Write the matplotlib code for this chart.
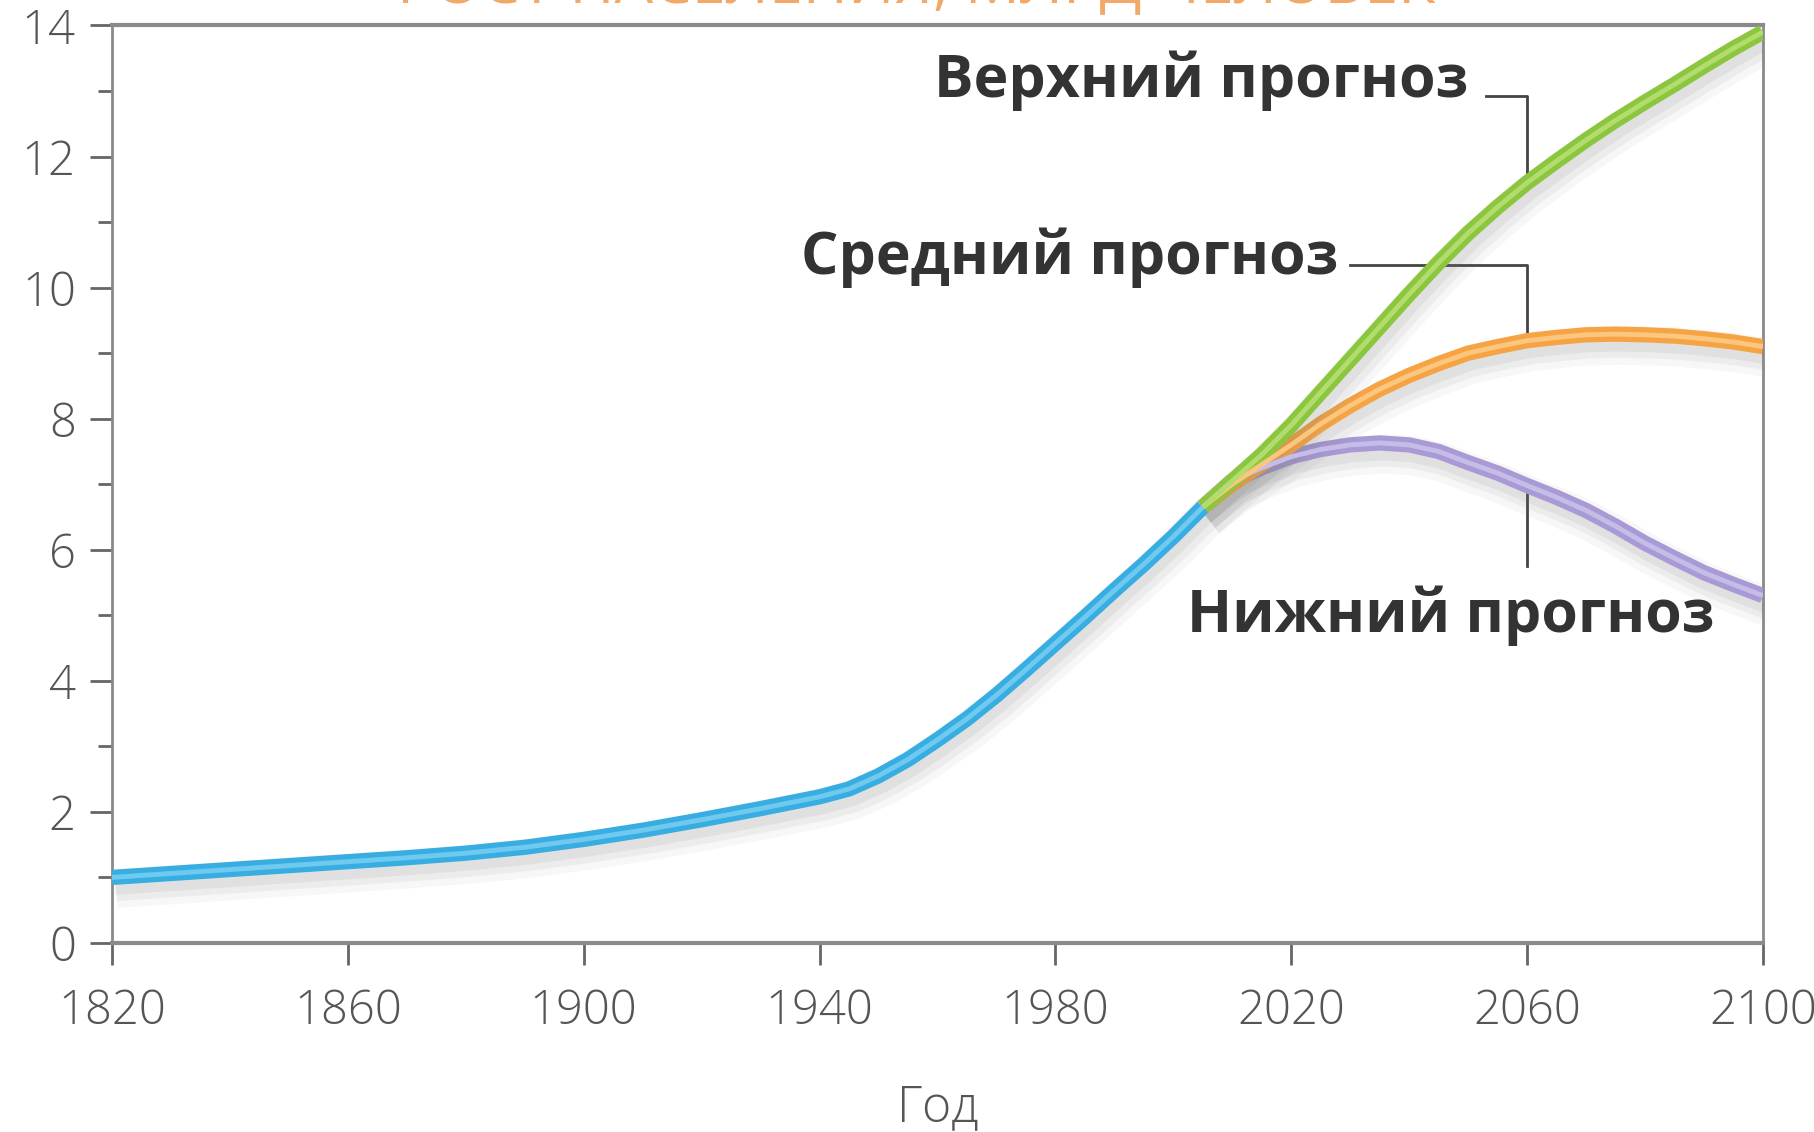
import matplotlib.pyplot as plt
import matplotlib.patheffects as pe

# --- DATA ---

hist_years = [1820, 1830, 1840, 1850, 1860, 1870, 1880, 1890, 1900, 1910, 1920, 1930, 1940,
              1945, 1950, 1955, 1960, 1965, 1970, 1975, 1980, 1985, 1990, 1995, 2000, 2005]
hist_pop = [1.0, 1.06, 1.12, 1.18, 1.24, 1.3, 1.37, 1.46, 1.58, 1.72, 1.88, 2.05, 2.23,
            2.35, 2.55, 2.8, 3.1, 3.42, 3.78, 4.17, 4.57, 4.97, 5.38, 5.78, 6.2, 6.65]

proj_years = [2005, 2010, 2015, 2020, 2025, 2030, 2035, 2040, 2045, 2050, 2055,
              2060, 2065, 2070, 2075, 2080, 2085, 2090, 2095, 2100]
high_pop = [6.65, 7.05, 7.45, 7.9, 8.4, 8.9, 9.4, 9.9, 10.38, 10.83, 11.23,
            11.6, 11.93, 12.25, 12.55, 12.83, 13.1, 13.38, 13.65, 13.9]
mid_pop = [6.65, 7.0, 7.3, 7.6, 7.92, 8.2, 8.45, 8.66, 8.84, 9.0, 9.1,
           9.19, 9.24, 9.28, 9.29, 9.28, 9.26, 9.22, 9.17, 9.1]
low_pop = [6.65, 7.05, 7.25, 7.42, 7.53, 7.6, 7.63, 7.6, 7.5, 7.33, 7.17,
           6.98, 6.8, 6.6, 6.36, 6.1, 5.87, 5.65, 5.47, 5.3]

x_ticks = [1820, 1860, 1900, 1940, 1980, 2020, 2060, 2100]
y_ticks = [0, 2, 4, 6, 8, 10, 12, 14]

title = 'РОСТ НАСЕЛЕНИЯ, МЛРД ЧЕЛОВЕК'
x_label = 'Год'

# --- PLOT ---

plt.rcParams['font.family'] = ['Open Sans', 'DejaVu Sans']

fig = plt.figure(figsize=(18.15, 11.32), dpi=100)
ax = fig.add_axes([0.0617, 0.167, 0.9096, 0.8105])

# soft shadow: a few wide, faint strokes under the line
shadow = [pe.SimpleLineShadow(offset=(3, -8), shadow_color='#777777', alpha=0.06, linewidth=28),
          pe.SimpleLineShadow(offset=(3, -7), shadow_color='#777777', alpha=0.08, linewidth=20),
          pe.SimpleLineShadow(offset=(2, -6), shadow_color='#777777', alpha=0.10, linewidth=13),
          pe.Normal()]


def draw(x, y, color, light):
    ax.plot(x, y, color=color, lw=11, solid_capstyle='butt', solid_joinstyle='round',
            path_effects=shadow, zorder=3)
    ax.plot(x, y, color=light, lw=3.5, solid_capstyle='butt', solid_joinstyle='round', zorder=4)


draw(proj_years, low_pop, '#a99ad6', '#c6bce8')
draw(proj_years, mid_pop, '#f6a443', '#fbc67e')
draw(proj_years, high_pop, '#8cc63e', '#b2dd6e')
draw(hist_years, hist_pop, '#38ade2', '#70caef')

ax.set_xlim(1820, 2100)
ax.set_ylim(0, 14)
ax.set_xticks(x_ticks)
ax.set_yticks(y_ticks)
ax.set_yticks(range(0, 15), minor=True)

for s in ax.spines.values():
    s.set_color('#8a8a8a')
    s.set_linewidth(2)
ax.spines['top'].set_linewidth(3)
ax.spines['bottom'].set_linewidth(3)

ax.tick_params(axis='both', which='both', direction='out', color='#666666', width=2,
               labelsize=34, labelcolor='#555555')
ax.tick_params(axis='y', which='major', length=16, pad=10)
ax.tick_params(axis='y', which='minor', length=10)
ax.tick_params(axis='x', which='major', length=16, pad=16)
for lab in ax.get_xticklabels() + ax.get_yticklabels():
    lab.set_fontweight('light')

ax.set_xlabel(x_label, fontsize=36, color='#555555', labelpad=34, fontweight='light')

# annotation labels with leader lines
lead = dict(color='#444444', lw=2, zorder=2)
ax.plot([2053, 2060, 2060], [12.93, 12.93, 11.6], **lead)
ax.plot([2030, 2060, 2060], [10.34, 10.34, 9.25], **lead)
ax.plot([2060, 2060], [6.98, 5.75], **lead)

txt = dict(fontsize=42.5, fontweight='bold', color='#333333', va='center', zorder=5)
ax.text(2050, 13.15, 'Верхний прогноз', ha='right', **txt)
ax.text(2028, 10.45, 'Средний прогноз', ha='right', **txt)
ax.text(2047, 5.0, 'Нижний прогноз', ha='center', **txt)

fig.text(0.505, 0.997, title, ha='center', va='baseline', fontsize=44,
         color='#f2a868')

fig.savefig('out.png', dpi=100)
